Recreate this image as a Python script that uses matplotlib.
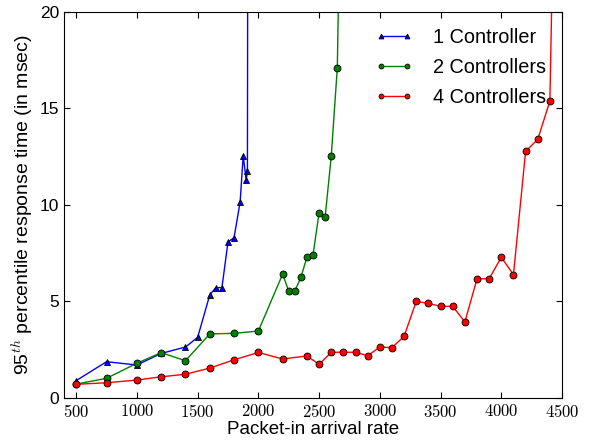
import matplotlib
matplotlib.use("Agg")
import matplotlib.pyplot as plt

plt.rcParams["font.family"] = ["Liberation Sans", "DejaVu Sans"]
plt.rcParams["mathtext.fontset"] = "cm"

# 1 controller (last point is off the chart, line shoots up)
rate_1 = [500, 750, 1000, 1200, 1400, 1500, 1600, 1650, 1700, 1750, 1800,
          1850, 1875, 1900, 1910, 1920]
resp_1 = [0.9, 1.88, 1.71, 2.31, 2.64, 3.14, 5.34, 5.72, 5.72, 8.08, 8.31,
          10.16, 12.55, 11.28, 11.76, 60]

# 2 controllers
rate_2 = [500, 750, 1000, 1200, 1400, 1600, 1800, 2000, 2200, 2250, 2300,
          2350, 2400, 2450, 2500, 2550, 2600, 2650, 2700]
resp_2 = [0.72, 1.02, 1.8, 2.35, 1.93, 3.32, 3.35, 3.47, 6.42, 5.54, 5.54,
          6.25, 7.3, 7.41, 9.6, 9.4, 12.52, 17.11, 36]

# 4 controllers
rate_4 = [500, 750, 1000, 1200, 1400, 1600, 1800, 2000, 2200, 2400, 2500,
          2600, 2700, 2800, 2900, 3000, 3100, 3200, 3300, 3400, 3500, 3600,
          3700, 3800, 3900, 4000, 4100, 4200, 4300, 4400, 4450]
resp_4 = [0.71, 0.79, 0.93, 1.1, 1.23, 1.55, 1.98, 2.36, 2.02, 2.18, 1.74,
          2.37, 2.37, 2.37, 2.19, 2.64, 2.61, 3.2, 5.01, 4.9, 4.75, 4.75,
          3.94, 6.17, 6.18, 7.29, 6.39, 12.78, 13.4, 15.39, 32]

x_ticks = [500, 1000, 1500, 2000, 2500, 3000, 3500, 4000, 4500]
y_ticks = [0, 5, 10, 15, 20]

fig = plt.figure(figsize=(5.91, 4.44), dpi=100)
ax = fig.add_axes([0.1083, 0.1036, 0.8427, 0.8694])

ax.plot(rate_1, resp_1, color="b", marker="^", markersize=5, lw=1,
        markeredgecolor="k", markeredgewidth=0.6, label="1 Controller")
ax.plot(rate_2, resp_2, color="g", marker="o", markersize=5, lw=1,
        markeredgecolor="k", markeredgewidth=0.6, label="2 Controllers")
ax.plot(rate_4, resp_4, color="r", marker="o", markersize=5, lw=1,
        markeredgecolor="k", markeredgewidth=0.6, label="4 Controllers")

ax.set_xlim(400, 4500)
ax.set_ylim(0, 20)
ax.set_xticks(x_ticks)
ax.set_xticklabels(["$%d$" % t for t in x_ticks], fontsize=12)
ax.set_yticks(y_ticks)
ax.set_yticklabels([str(t) for t in y_ticks], fontsize=12.5)
ax.tick_params(direction="in", top=True, right=True, length=4, width=0.8)

ax.set_xlabel("Packet-in arrival rate", fontsize=13.5, labelpad=1)
ax.set_ylabel("95$^{th}$ percentile response time (in msec)", fontsize=14,
              labelpad=3)

leg = ax.legend(loc="upper right", frameon=False, fontsize=14.3, numpoints=2,
                markerscale=0.7, handlelength=1.9, handletextpad=1.0,
                labelspacing=0.55, borderaxespad=0.4)

fig.savefig("out.png", dpi=100)
